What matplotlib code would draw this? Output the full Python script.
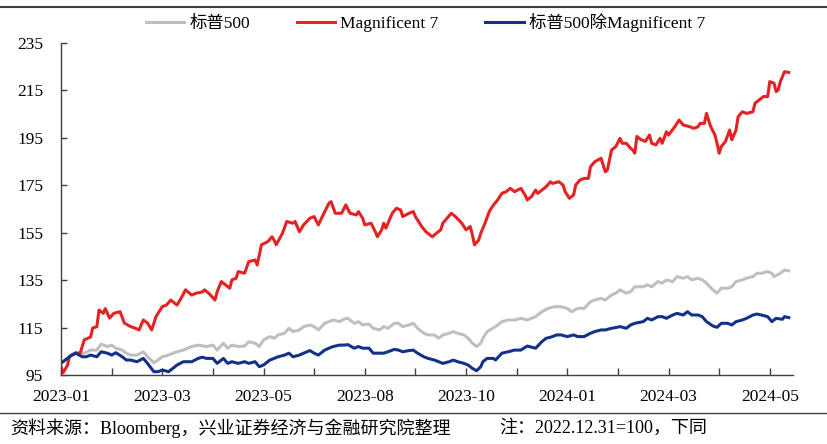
import numpy as np
import matplotlib
matplotlib.use("Agg")
from matplotlib import pyplot as plt
from matplotlib.lines import Line2D

plt.rcParams['font.family'] = ['Liberation Serif', 'Noto Sans CJK SC', 'DejaVu Sans']

# trading-day index (0 = 2022-12-30) and index level (2022.12.31 = 100)
spx_days = [0, 2, 5, 8, 11, 14, 17, 19, 22, 24, 26, 29, 31, 33, 36, 39, 41, 44, 46, 48,
            51, 53, 55, 58, 60, 62, 65, 69, 72, 74, 77, 79, 81, 84, 87, 89, 92, 94, 96, 99,
            101, 103, 106, 108, 110, 113, 115, 118, 120, 122, 125, 127, 129, 132, 134, 136,
            139, 141, 143, 146, 148, 151, 153, 155, 158, 160, 162, 165, 167, 169, 172, 174,
            177, 179, 181, 184, 186, 188, 191, 193, 195, 197, 199, 200, 202, 206, 209, 212,
            215, 218, 221, 225, 228, 231, 234, 237, 240, 242, 245, 248, 251, 253, 256, 258,
            261, 263, 265, 268, 270, 272, 276, 278, 280, 283, 285, 287, 290, 292, 295, 297,
            299, 302, 304, 306, 309, 311, 313, 316, 318, 320, 323, 325, 328, 330, 332, 335,
            337, 338, 341, 343, 345]
spx_vals = [100, 101.3, 103.4, 104.2, 104.2, 105.5, 105.5, 108, 107, 107.6, 106.3, 105.5,
            104.2, 103.4, 103.4, 104.8, 102.7, 100.2, 101.3, 102.7, 103.4, 104.2, 104.8,
            105.5, 106.3, 107, 107.6, 107, 107.6, 105.5, 108.4, 106.3, 107.6, 107, 107.2,
            109, 108.4, 107, 109.8, 111.2, 110.5, 111.9, 112.6, 114.7, 113.3, 114, 115.4,
            116.1, 115.4, 114, 116.8, 117.5, 118.2, 117.5, 118.5, 118.9, 116.8, 117.5,
            116.1, 116.5, 114.7, 114, 115.4, 114.7, 116.8, 116.8, 115.4, 116.1, 116.8,
            114.7, 112.6, 111.9, 111.9, 110.5, 111.9, 112.6, 113.3, 112.6, 111.9, 110.5,
            108.4, 107, 108.4, 110.5, 113.3, 115.4, 117.5, 118.2, 118.2, 118.9, 118.2,
            119.6, 121.7, 123.1, 123.8, 123.8, 123.1, 121.7, 123.1, 123.1, 125.9, 126.6,
            127.3, 126.6, 128.7, 129.5, 130.9, 129.5, 130.1, 132.2, 132.2, 133, 132.2,
            134.4, 133.7, 135.1, 134.4, 136.5, 135.8, 136.5, 135.1, 135.8, 135.1, 133.7,
            130.9, 129.5, 131.6, 131.6, 132.2, 134.4, 135.1, 135.8, 136.5, 137.9, 137.9,
            138.6, 137.9, 136.5, 137.9, 139.3, 138.9]

mag7_days = [0, 1, 2, 3, 4, 7, 9, 11, 14, 15, 17, 18, 20, 21, 23, 25, 28, 30, 33, 35, 37,
             39, 41, 43, 45, 48, 50, 52, 55, 57, 59, 62, 64, 67, 68, 70, 73, 74, 76, 78, 80,
             81, 83, 84, 87, 89, 92, 93, 95, 98, 100, 101, 102, 105, 107, 110, 111, 113,
             115, 118, 120, 122, 125, 127, 128, 130, 133, 135, 137, 140, 141, 143, 144, 147,
             149, 150, 152, 153, 154, 157, 159, 161, 162, 165, 167, 168, 171, 173, 176, 178,
             180, 181, 183, 185, 187, 190, 192, 194, 195, 196, 198, 199, 201, 203, 205, 207,
             209, 211, 213, 215, 218, 220, 221, 223, 225, 226, 228, 230, 232, 233, 236, 238,
             239, 241, 243, 244, 246, 248, 250, 251, 253, 256, 258, 259, 261, 263, 265, 266,
             268, 270, 271, 272, 273, 275, 277, 279, 280, 282, 284, 285, 287, 288, 291, 293,
             295, 298, 300, 302, 303, 305, 306, 308, 310, 311, 312, 313, 315, 317, 318, 320,
             321, 323, 325, 328, 329, 331, 333, 335, 336, 338, 339, 340, 341, 343, 345]
mag7_vals = [98.5, 96, 97.5, 99, 102.7, 104.4, 104, 109.8, 111, 114.8, 115.4, 122.4, 121,
             123, 119, 121, 121.7, 116.9, 115.4, 114.8, 114, 118.2, 116.9, 114, 119.6, 123.8,
             124.5, 126.6, 124.5, 127.5, 130.9, 128.7, 129.5, 130, 130.9, 129.5, 126.6, 130.1,
             134.4, 133, 131.6, 135.1, 135.8, 138.6, 137.9, 142.8, 143.5, 141.4, 149.9, 151.2,
             153.3, 151.9, 149.9, 154.8, 159.7, 159, 159.7, 155.4, 158.3, 161.1, 161.8, 158.3,
             163.9, 167.4, 168.1, 163.2, 163.2, 166.7, 163.2, 162.5, 163.9, 161.1, 158.3, 159,
             155.4, 153.3, 156.2, 159, 156.9, 163.2, 165.3, 164.6, 161.8, 163.2, 163.9, 161.8,
             157.6, 155.4, 153.3, 154.8, 156.2, 159, 161.1, 163.2, 161.8, 159, 156.2, 157.6,
             154.1, 149.9, 151.9, 154.8, 159, 163.9, 166.7, 168.8, 171.6, 172.3, 173.7, 172.3,
             173.7, 170.9, 168.8, 170.2, 173, 171.6, 173, 174.4, 176.5, 175.8, 176.5, 175.1,
             172.3, 169.5, 170.9, 175.1, 177.2, 177.9, 177.9, 182.8, 184.9, 186.4, 180.7,
             181.4, 189.9, 191.3, 194.8, 192.7, 192.7, 190.6, 189.9, 188.5, 195.6, 194.2,
             193.5, 196.2, 192.7, 192, 194.8, 192.7, 197.6, 196.2, 199.7, 202.5, 200.4, 199.7,
             199, 199.7, 201.1, 201.1, 205.3, 199.7, 196.2, 192.7, 188.5, 191.3, 193.5, 198.3,
             194.2, 198.3, 203.9, 206, 205.3, 206, 209.6, 211, 212.4, 212.4, 218.7, 218,
             214.5, 215.2, 218.7, 222.9, 222.6]

exm7_days = [0, 2, 5, 7, 10, 12, 14, 17, 19, 22, 24, 26, 29, 31, 33, 36, 39, 41, 44, 46,
             48, 51, 53, 55, 58, 60, 62, 65, 67, 69, 72, 74, 77, 79, 81, 84, 87, 89, 92, 94,
             96, 99, 101, 103, 106, 108, 110, 113, 115, 118, 120, 122, 125, 127, 129, 132,
             134, 136, 139, 141, 143, 146, 148, 151, 153, 155, 158, 160, 162, 165, 167, 169,
             172, 174, 177, 179, 181, 184, 186, 188, 191, 193, 195, 197, 199, 200, 202, 205,
             206, 209, 212, 215, 218, 221, 225, 228, 230, 232, 235, 237, 240, 243, 245, 248,
             251, 253, 256, 258, 261, 263, 265, 268, 270, 272, 276, 278, 280, 283, 285, 287,
             290, 292, 295, 297, 299, 302, 304, 306, 309, 311, 313, 316, 318, 320, 323, 325,
             328, 330, 332, 335, 337, 339, 342, 343, 345]
exm7_vals = [100, 101.3, 103.4, 104.2, 102.7, 102.7, 103.4, 102.7, 104.8, 104.2, 103.4,
             104.4, 102.7, 101.3, 101.3, 100.6, 102, 99.9, 96.4, 96.4, 97.1, 96.4, 97.8,
             99.2, 100.6, 100.6, 100.6, 102, 102.5, 102, 102, 99.9, 102, 99.9, 100.6, 99.9,
             100.6, 99.9, 100.6, 98.5, 99.2, 101.3, 102, 102.7, 103.4, 104.2, 102.7, 103.4,
             104.2, 105.3, 104.2, 103.4, 105.5, 106.3, 107, 107.6, 107.6, 107.8, 106.3, 107,
             106.3, 106.3, 104.2, 104.2, 104.2, 104.8, 105.8, 105.5, 104.8, 105.3, 105.5,
             104.2, 102.7, 102, 101.3, 100.6, 99.9, 100.6, 101.3, 100.6, 99.9, 99.2, 97.8,
             96.8, 98.5, 100.6, 102, 102, 101.3, 104.2, 104.8, 105.5, 105.5, 107.2, 106.3,
             109.1, 110.5, 110.9, 111.9, 111.9, 111.2, 111.9, 111.2, 111.2, 112.6, 113.3,
             114, 114, 114.7, 115, 115.4, 114.7, 116.1, 116.8, 117.5, 118.9, 118.2, 119.6,
             119.6, 118.9, 120.3, 121, 120.3, 121.7, 120.3, 120.3, 119.6, 117.5, 115.7,
             115.1, 116.8, 116.8, 116.1, 117.5, 118.2, 118.9, 120.3, 120.7, 120.3, 119.6,
             117.5, 118.9, 118.5, 119.6, 119.2]

tick_days = list(range(0, 337, 24))
label_days = list(range(0, 337, 48))
tick_labels = ['2023-01', '2023-03', '2023-05', '2023-08', '2023-10',
               '2024-01', '2024-03', '2024-05']
y_ticks = list(range(95, 236, 20))

fig = plt.figure(figsize=(8.28, 4.44), dpi=100)
ax = fig.add_axes([0.0737, 0.1554, 0.884, 0.7478])

ax.plot(spx_days, spx_vals, color='#BFBFBF', lw=2.2, label='标普500')
ax.plot(mag7_days, mag7_vals, color='#E32322', lw=2.2, label='Magnificent 7')
ax.plot(exm7_days, exm7_vals, color='#14318A', lw=2.2, label='标普500除Magnificent 7')

ax.set_xlim(0, 347)
ax.set_ylim(95, 235)
ax.set_yticks(y_ticks)
ax.set_xticks(tick_days, minor=True)
ax.set_xticks(label_days)
ax.set_xticklabels(tick_labels)

for s in ['top', 'right']:
    ax.spines[s].set_visible(False)
for s in ['left', 'bottom']:
    ax.spines[s].set_color('#404040')
    ax.spines[s].set_linewidth(1.0)

ax.tick_params(axis='both', which='both', direction='in', color='#404040',
               labelsize=12.5, width=1.0)
ax.tick_params(axis='y', length=4, pad=13)
ax.tick_params(axis='x', which='both', length=5, pad=10)

fig.legend(loc='center', bbox_to_anchor=(0.514, 0.950), ncol=3, frameon=False,
           fontsize=12.5, handlelength=2.2, handletextpad=0.3, columnspacing=2.7)

fig.add_artist(Line2D([0, 1], [0.984, 0.984], transform=fig.transFigure,
                      color='#404040', lw=1.5))
fig.add_artist(Line2D([0, 1], [0.070, 0.070], transform=fig.transFigure,
                      color='#404040', lw=1.0))

fig.text(0.012, 0.036, '资料来源：Bloomberg，兴业证券经济与金融研究院整理',
         fontsize=13, va='center', ha='left')
fig.text(0.603, 0.036, '注：2022.12.31=100，下同', fontsize=13, va='center', ha='left')

fig.savefig('out.png', dpi=100)
